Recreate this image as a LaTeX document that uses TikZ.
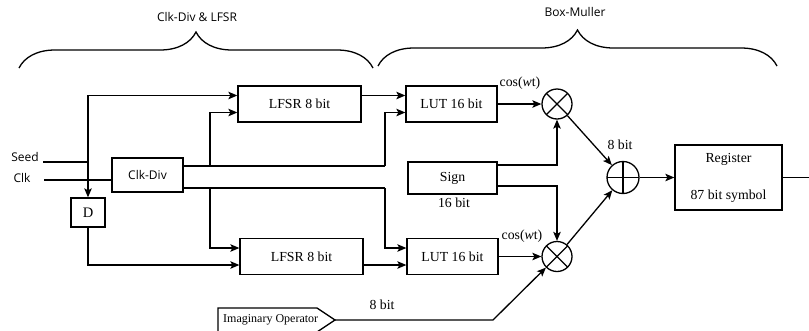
\documentclass[tikz,border=0pt]{standalone}
\usepackage{fontspec}
\setmainfont{Liberation Serif}
\setsansfont{Open Sans}
\usetikzlibrary{arrows.meta,decorations.pathreplacing}
\newcommand{\boxfont}{\fontsize{13.8}{16}\selectfont}
\newcommand{\grpfont}{\sffamily\fontsize{12}{14}\selectfont}

\begin{document}
\begin{tikzpicture}[x=1pt,y=-1pt,
   >={Stealth[length=9pt,width=7.5pt,inset=2pt]},
   wire/.style={line width=1.3pt},
   box/.style={draw, line width=1.3pt, inner sep=0pt, font=\boxfont},
   lbl/.style={inner sep=0pt, font=\boxfont},
   sanslbl/.style={inner sep=0pt, font=\grpfont},
   mult/.style={circle, draw, line width=1.3pt, minimum size=30pt, inner sep=0pt,
      path picture={\draw[line width=1.3pt] (path picture bounding box.north west) -- (path picture bounding box.south east)
         (path picture bounding box.north east) -- (path picture bounding box.south west);}},
   sum/.style={circle, draw, line width=1.3pt, minimum size=32pt, inner sep=0pt,
      path picture={\draw[line width=1.3pt] (path picture bounding box.north) -- (path picture bounding box.south)
         (path picture bounding box.west) -- (path picture bounding box.east);}}]
   \useasboundingbox (0,0) rectangle (809,330);

   \draw [wire, decorate, decoration={brace, amplitude=36pt}] (19,68) -- (373,68);
   \draw [wire, decorate, decoration={brace, amplitude=36pt}] (378,66) -- (777,66);
   \node [sanslbl] (grpA) at (197,17) {Clk-Div \& LFSR};
   \node [sanslbl] (grpB) at (575,12) {Box-Muller};

   \node [box, minimum width=123pt, minimum height=36pt] (lfsrA) at (299.5,104) {LFSR 8 bit};
   \node [box, minimum width=123pt, minimum height=36pt] (lfsrB) at (301.5,256.5) {LFSR 8 bit};
   \node [box, minimum width=91pt, minimum height=36pt] (lutA) at (451.5,104) {LUT 16 bit};
   \node [box, minimum width=91pt, minimum height=36pt] (lutB) at (452.5,256.5) {LUT 16 bit};
   \node [box, minimum width=89pt, minimum height=32pt] (sign) at (452.5,178) {Sign};
   \node [box, font=\grpfont, minimum width=71pt, minimum height=34pt] (clkdiv) at (147.5,175) {Clk-Div};
   \node [box, font=\fontsize{14.5}{16}\selectfont, minimum width=34pt, minimum height=29pt] (dff) at (88,212.5) {D};
   \node [box, align=center, minimum width=107pt, minimum height=65pt] (reg) at (728.5,177.5) {Register\\[21pt]87 bit symbol};
   \node [mult] (mulA) at (557,104) {};
   \node [mult] (mulB) at (557,256.5) {};
   \node [sum] (add) at (623,177.5) {};

   \node [sanslbl] (seed) at (25,157) {Seed};
   \node [sanslbl] (clk) at (22,178) {Clk};
   \node [lbl] (cosA) at (520,83) {cos(\textit{w}t)};
   \node [lbl] (cosB) at (522,236) {cos(\textit{w}t)};
   \node [lbl] (bitsA) at (620,145) {8 bit};
   \node [lbl] (bitsB) at (382,305) {8 bit};
   \node [lbl] (bitsS) at (454,203) {16 bit};

   \node [lbl, font=\fontsize{12}{14}\selectfont, anchor=west] (imag) at (223,320) {Imaginary Operator};
   \coordinate (imagtip) at (335,320);
   \draw [wire] (218,308) -- (317,308) -- (imagtip) -- (317,332) -- (218,332) -- cycle;

   \coordinate (seedin) at (43,162);
   \coordinate (seedj) at (88,162);
   \coordinate (clkin) at (44,180);
   \coordinate (tapA) at (210,166);
   \coordinate (tapB) at (210,188);
   \coordinate (busA) at (385,166);
   \coordinate (busB) at (385,188);
   \coordinate (bend) at (493,320);
   \coordinate (out) at (809,177.5);

   \draw [wire] (seedin) -- (seedj);
   \draw [wire, ->] (seedj) |- ([yshift=8.5pt]lfsrA.west);
   \draw [wire, ->] (seedj) -- (dff);
   \draw [wire] (clkin) -- (clkin -| clkdiv.west);
   \draw [wire] ([yshift=9pt]clkdiv.east) -- (busA);
   \draw [wire, ->] (busA) |- ([yshift=-8.5pt]lutA.west);
   \draw [wire, ->] (tapA) |- ([yshift=-8.5pt]lfsrA.west);
   \draw [wire] ([yshift=-13pt]clkdiv.east) -- (busB);
   \draw [wire, ->] (busB) |- ([yshift=8.5pt]lutB.west);
   \draw [wire, ->] (tapB) |- ([yshift=8.5pt]lfsrB.west);
   \draw [wire, ->] (dff) |- ([yshift=-8.5pt]lfsrB.west);
   \draw [wire, ->] ([yshift=8.5pt]lfsrA.east) -- ([yshift=8.5pt]lutA.west);
   \draw [wire, ->] ([yshift=-8.5pt]lfsrB.east) -- ([yshift=-8.5pt]lutB.west);
   \draw [wire, ->] (lutA) -- (mulA);
   \draw [wire, ->] (lutB) -- (mulB);
   \draw [wire, ->] ([yshift=13pt]sign.east) -| (mulA.south);
   \draw [wire, ->] ([yshift=-8pt]sign.east) -| (mulB.north);
   \draw [wire, ->] (mulA) -- (add);
   \draw [wire, ->] (mulB) -- (add);
   \draw [wire, ->] (add) -- (reg);
   \draw [wire] (reg) -- (out);
   \draw [wire, ->] (imagtip) -- (bend) -- (mulB.225);
\end{tikzpicture}
\end{document}
